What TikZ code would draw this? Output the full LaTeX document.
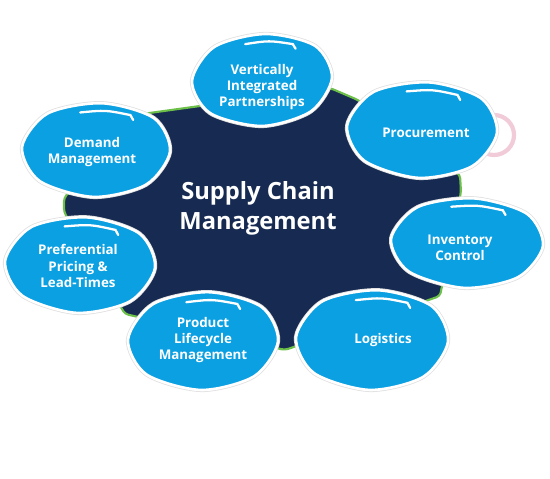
\documentclass[tikz,border=0pt]{standalone}
\usepackage{fontspec}
\setmainfont{Open Sans}
\usepackage{xcolor}
\usetikzlibrary{positioning}

\definecolor{scmnavy}{HTML}{172B52}
\definecolor{scmgreen}{HTML}{6CC04A}
\definecolor{scmblue}{HTML}{0AA0E2}
\definecolor{scmpink}{HTML}{F2CBD9}

\tikzset{
    blobfill/.style={fill=scmblue, draw=white, line width=1.5pt},
    blobshadow/.style={draw=black!12, line width=2.4pt},
    hilite/.style={draw=white, line width=1.3pt, line cap=round},
    blobtext/.style={text=white, font=\fontsize{7.6}{9.2}\selectfont\bfseries, align=center},
    titletext/.style={text=white, font=\fontsize{13.5}{17}\selectfont\bfseries, align=center}
}

\begin{document}
\begin{tikzpicture}[x=0.02cm, y=-0.02cm]
    \useasboundingbox (0, 0) rectangle (550, 479);
    % central shape
    \draw[fill=scmnavy, draw=scmgreen, line width=1.2pt, rounded corners=2pt]
        (135, 115) -- (330, 88) -- (358, 100) -- (460, 175) -- (461, 192)
        -- (440, 296) -- (285, 350) -- (125, 314) -- (64, 212) -- (64, 198) -- cycle;
    % pink ring behind procurement
    \draw[scmpink, line width=2.4pt] (494, 135) circle (20);
    % blobs
    \foreach \cx/\cy/\rx/\ry/\rot in {262/80/70/46/0, 422/130/75/48/-4, 96/150/74/47/-3,
                                      80/265/75/48/-4, 203/341/75/49/-2, 372/340/76/50/-3,
                                      467/243/76/45/-4} {
        \begin{scope}[shift={(\cx, \cy)}, rotate={\rot}, xscale={\rx}, yscale={\ry}]
            \draw[blobshadow] plot[smooth cycle] coordinates {(1, -0.05) (0.76, -0.74) (0.05, -1) (-0.68, -0.72) (-1, 0.02) (-0.74, 0.72) (0, 1) (0.7, 0.68)};
            \draw[blobfill] plot[smooth cycle] coordinates {(1, -0.05) (0.76, -0.74) (0.05, -1) (-0.68, -0.72) (-1, 0.02) (-0.74, 0.72) (0, 1) (0.7, 0.68)};
            \draw[hilite] (-0.24, -0.78) .. controls (0.1, -0.86) .. (0.44, -0.78) -- (0.48, -0.68);
        \end{scope}
    }
    % labels
    \node[titletext] (scm) at (258, 208) {Supply Chain\\Management};
    \node[blobtext] (vip) at (262, 87) {Vertically\\Integrated\\Partnerships};
    \node[blobtext] (proc) at (426, 133) {Procurement};
    \node[blobtext] (demand) at (92, 152) {Demand\\Management};
    \node[blobtext] (pricing) at (78, 266) {Preferential\\Pricing \&\\Lead-Times};
    \node[blobtext] (plm) at (203, 340) {Product\\Lifecycle\\Management};
    \node[blobtext] (logi) at (383, 340) {Logistics};
    \node[blobtext] (inv) at (460, 248) {Inventory\\Control};
\end{tikzpicture}
\end{document}
